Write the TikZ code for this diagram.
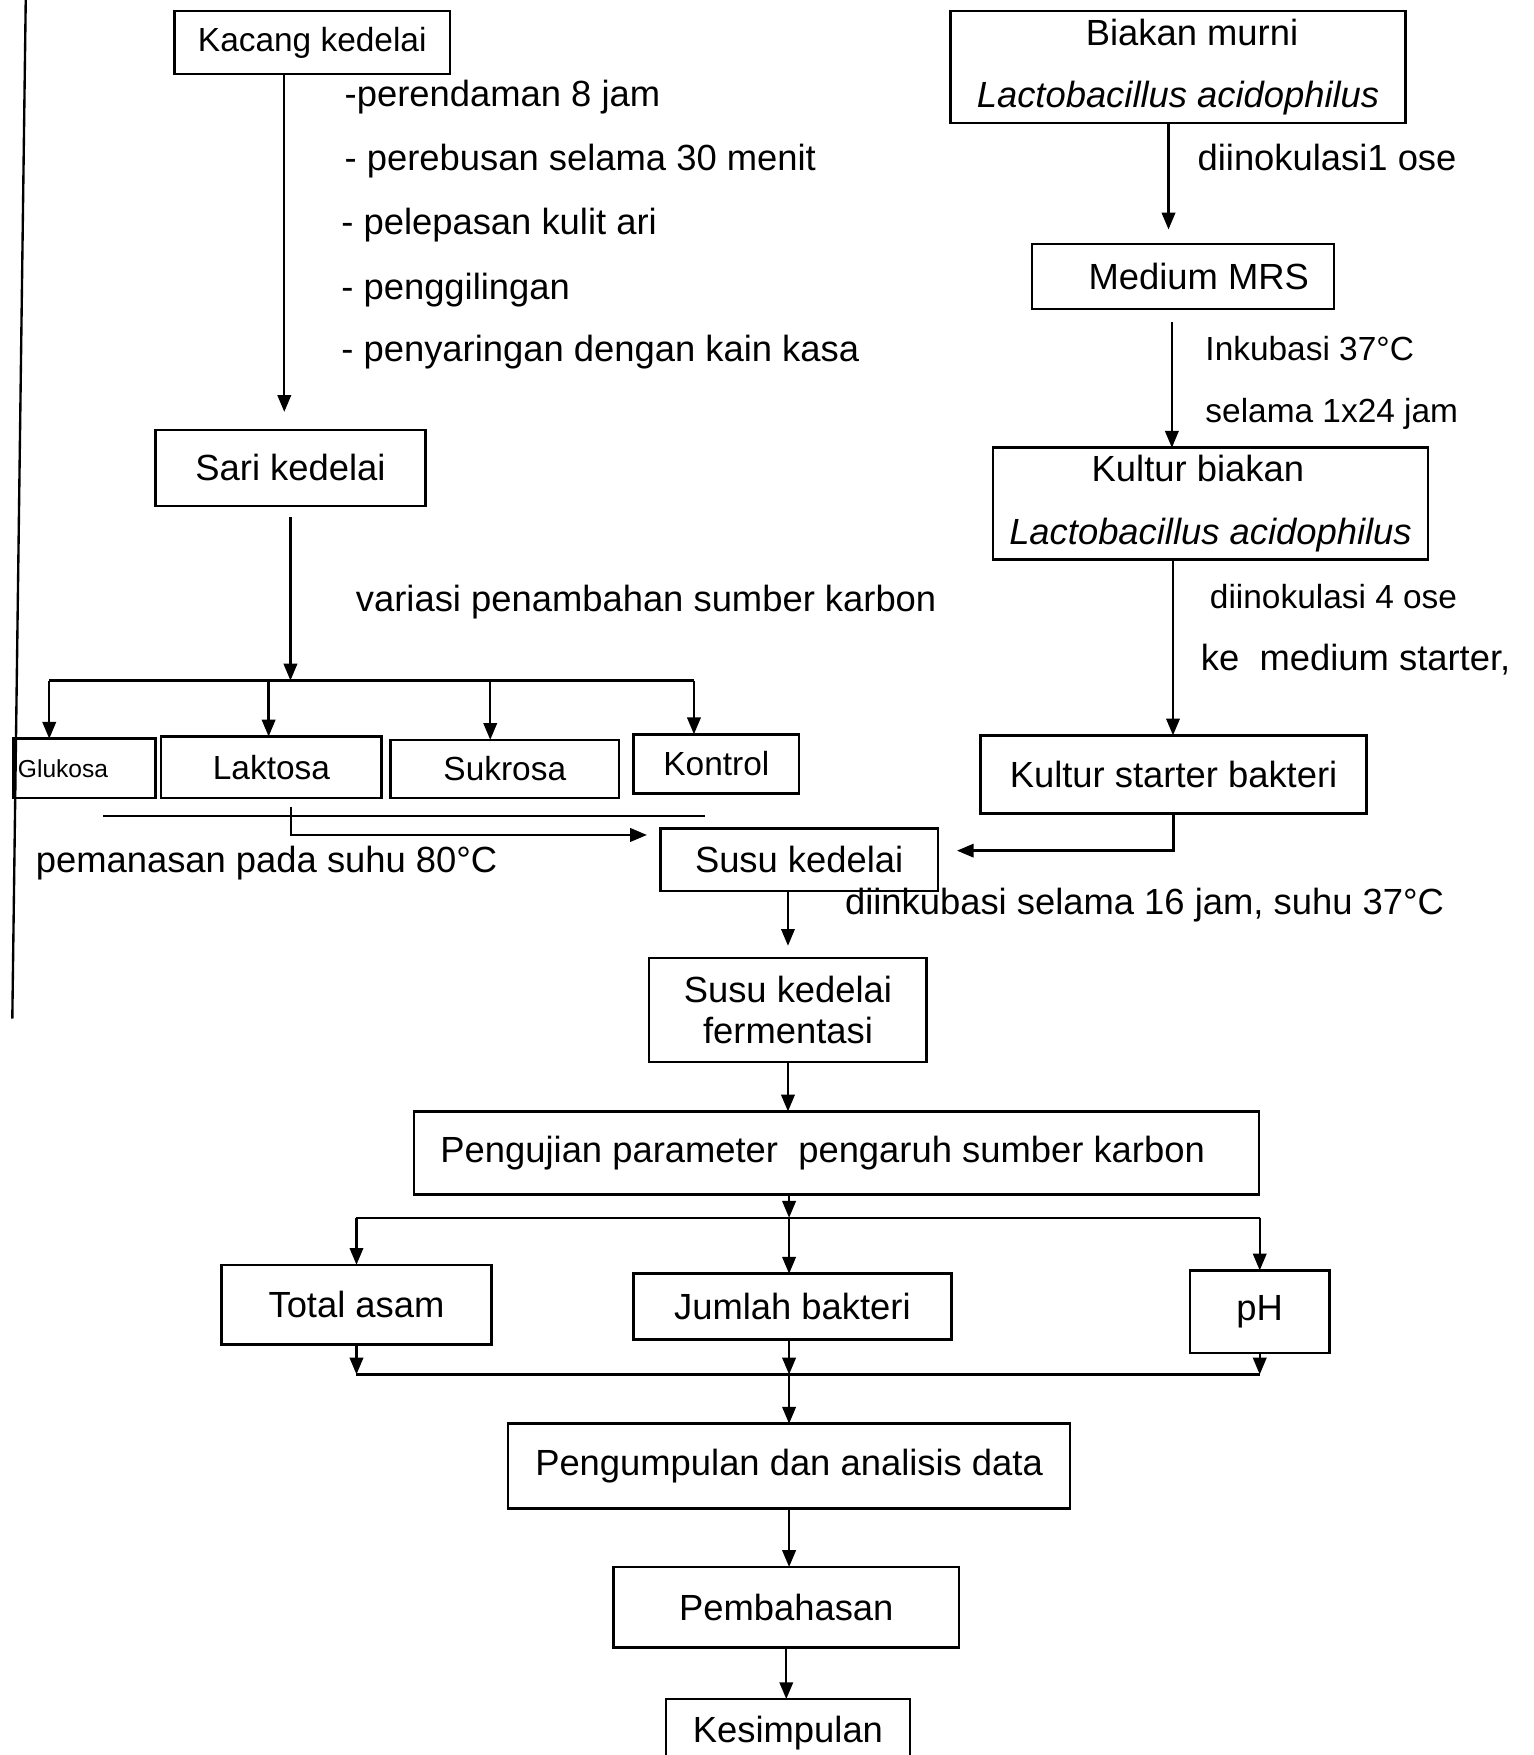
\documentclass[tikz,border=0pt]{standalone}
\usepackage{fontspec}
\setmainfont{Liberation Sans}
\usetikzlibrary{arrows.meta}

\begin{document}
\begin{tikzpicture}[x=0.02cm, y=-0.02cm,
  every node/.style={font=\fontsize{18.5}{22}\selectfont, inner sep=0pt, outer sep=0pt},
  small/.style={font=\fontsize{17}{20}\selectfont},
  box/.style={draw, line width=1.3pt, align=center},
  lbl/.style={anchor=west, text height=13pt, text depth=0pt},
  arr/.style={-{Triangle[length=0.3cm,width=0.24cm]}, line width=1.2pt}]
\useasboundingbox (0,0) rectangle (1370,1568);

% garis tepi kiri
\draw[line width=1.2pt] (23,0) -- (11,910);

% kolom kiri
\node[box, small, minimum width=4.92cm, minimum height=1.12cm] (kacang) at (279,38) {Kacang kedelai};
\node[box, minimum width=4.82cm, minimum height=1.36cm] (sari) at (259.5,418) {Sari kedelai};
\node[lbl] (s1) at (308,84) {-perendaman 8 jam};
\node[lbl] (s2) at (308,141) {- perebusan selama 30 menit};
\node[lbl] (s3) at (305,198) {- pelepasan kulit ari};
\node[lbl] (s4) at (305,256) {- penggilingan};
\node[lbl] (s5) at (305,312) {- penyaringan dengan kain kasa};
\node[lbl] (variasi) at (318,535) {variasi penambahan sumber karbon};

\node[box, font=\fontsize{12.5}{15}\selectfont, minimum height=1.06cm, text width=2.38cm, inner xsep=0.08cm, align=left] (glukosa) at (75.5,686.5) {Glukosa};
\node[box, small, minimum width=3.94cm, minimum height=1.1cm] (laktosa) at (242.5,685.5) {Laktosa};
\node[box, small, minimum width=4.08cm, minimum height=1.04cm] (sukrosa) at (451,687) {Sukrosa};
\node[box, small, minimum width=2.96cm, minimum height=1.06cm] (kontrol) at (640,682.5) {Kontrol};
\node[lbl] (panas) at (32,768) {pemanasan pada suhu 80°C};

% kolom kanan
\node[box, minimum width=8.14cm, minimum height=2cm] (biakan) at (1052.5,60) {\hspace*{0.5cm}Biakan murni\\[9.8pt]\textit{Lactobacillus acidophilus}};
\node[box, minimum width=5.4cm, minimum height=1.16cm] (mrs) at (1057,247) {\hspace*{0.56cm}Medium MRS};
\node[box, minimum width=7.78cm, minimum height=2cm] (kultur) at (1081.5,450) {\hspace*{-0.45cm}Kultur biakan\\[9.8pt]\textit{Lactobacillus acidophilus}};
\node[box, minimum width=6.9cm, minimum height=1.4cm] (starter) at (1048.5,692) {Kultur starter bakteri};
\node[lbl] (ose1) at (1070,141) {diinokulasi1 ose};
\node[lbl, small] (inkub) at (1077,311) {Inkubasi 37°C};
\node[lbl, small] (lama) at (1077,366) {selama 1x24 jam};
\node[lbl, small] (ose4) at (1081,532) {diinokulasi 4 ose};
\node[lbl] (kemedium) at (1073,588) {ke\ \ medium starter,};

% alur bawah
\node[box, minimum width=4.96cm, minimum height=1.12cm] (susu) at (714,768) {Susu kedelai};
\node[lbl] (inkub16) at (755,806) {diinkubasi selama 16 jam, suhu 37°C};
\node[box, minimum width=4.96cm, minimum height=1.86cm] (ferment) at (704,902.5) {Susu kedelai\\[-1.5pt]fermentasi};
\node[box, minimum width=15.1cm, minimum height=1.48cm] (uji) at (747.5,1030) {\hspace*{-0.5cm}Pengujian parameter\ \ pengaruh sumber karbon};
\node[box, minimum width=4.82cm, minimum height=1.42cm] (total) at (318.5,1165.5) {Total asam};
\node[box, minimum width=5.68cm, minimum height=1.18cm] (jumlah) at (708,1167.5) {Jumlah bakteri};
\node[box, minimum width=2.5cm, minimum height=1.48cm] (ph) at (1125.5,1172) {pH};
\node[box, minimum width=10.04cm, minimum height=1.52cm] (kumpul) at (705,1310) {Pengumpulan dan analisis data};
\node[box, minimum width=6.18cm, minimum height=1.44cm] (bahas) at (702.5,1436) {Pembahasan};
\node[box, minimum width=4.36cm, minimum height=1.2cm] (simpul) at (704,1548) {Kesimpulan};

% panah kiri
\draw[arr, shorten >=0.32cm] (kacang.south -| 254,0) -- (sari.north -| 254,0);
\coordinate (split) at (259.5,608);
\draw[arr, shorten <=0.2cm] (sari.south) -- (split);
\draw[line width=1.2pt] (44,608) -- (620,608);
\draw[arr] (44,608) -- (glukosa.north -| 44,608);
\draw[arr] (240,608) -- (laktosa.north -| 240,608);
\draw[arr] (438,608) -- (sukrosa.north -| 438,608);
\draw[arr] (620,608) -- (kontrol.north -| 620,608);
\draw[line width=1.2pt] (92,729) -- (630,729);
\draw[arr, shorten >=0.24cm] (260,721) -- (260,746) -- (susu.west |- 260,746);

% panah kanan
\draw[arr, shorten >=0.26cm] (biakan.south -| 1044,0) -- (mrs.north -| 1044,0);
\draw[arr, shorten <=0.24cm] (mrs.south -| 1047,0) -- (kultur.north -| 1047,0);
\draw[arr] (kultur.south -| 1048,0) -- (starter.north -| 1048,0);
\draw[arr, shorten >=0.34cm] (starter.south) -- (starter.south |- 0,760) -- (susu.east |- 0,760);

% panah bawah
\draw[arr, shorten >=0.22cm] (susu.south -| ferment.north) -- (ferment.north);
\draw[arr] (ferment.south) -- (ferment.south |- uji.north);
\coordinate (split2) at (705,1088);
\draw[arr] (uji.south -| split2) -- (split2);
\draw[line width=1.2pt] (split2 -| total) -- (split2 -| ph);
\draw[arr] (split2 -| total) -- (total);
\draw[arr] (split2) -- (jumlah.north -| split2);
\draw[arr] (split2 -| ph) -- (ph);
\coordinate (merge) at (705,1228);
\draw[arr] (total) -- (total |- merge);
\draw[arr] (jumlah.south -| merge) -- (merge);
\draw[arr] (ph) -- (ph |- merge);
\draw[line width=1.2pt] (total |- merge) -- (ph |- merge);
\draw[arr] (merge) -- (kumpul);
\draw[arr] (kumpul) -- (kumpul |- bahas.north);
\draw[arr] (bahas) -- (bahas |- simpul.north);
\end{tikzpicture}
\end{document}
